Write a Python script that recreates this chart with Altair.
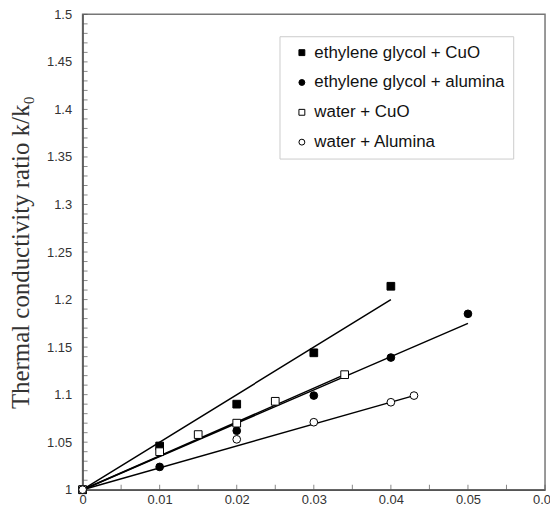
import altair as alt
import pandas as pd

series = ["ethylene glycol + CuO", "ethylene glycol + alumina", "water + CuO", "water + Alumina"]

eg_cuo_x = [0.0, 0.01, 0.02, 0.03, 0.04]
eg_cuo_y = [1.0, 1.046, 1.090, 1.144, 1.214]

eg_al_x = [0.0, 0.01, 0.02, 0.03, 0.04, 0.05]
eg_al_y = [1.0, 1.024, 1.062, 1.099, 1.139, 1.185]

w_cuo_x = [0.0, 0.01, 0.015, 0.02, 0.025, 0.034]
w_cuo_y = [1.0, 1.040, 1.058, 1.070, 1.093, 1.121]

w_al_x = [0.0, 0.02, 0.03, 0.04, 0.043]
w_al_y = [1.0, 1.053, 1.071, 1.092, 1.099]

fit_x_end = [0.04, 0.05, 0.034, 0.043]
fit_y_end = [1.200, 1.175, 1.121, 1.099]

x_tick_vals = [0, 0.01, 0.02, 0.03, 0.04, 0.05, 0.06]
y_tick_vals = [1, 1.05, 1.1, 1.15, 1.2, 1.25, 1.3, 1.35, 1.4, 1.45, 1.5]
x_minor = [round(i * 0.005, 3) for i in range(13)]
y_minor = [round(1 + i * 0.01, 2) for i in range(51)]

W, H = 465, 478

rows = []
for s, xs, ys in zip(series, [eg_cuo_x, eg_al_x, w_cuo_x, w_al_x], [eg_cuo_y, eg_al_y, w_cuo_y, w_al_y]):
    for a, b in zip(xs, ys):
        rows.append({"series": s, "x": a, "y": b})
pts = pd.DataFrame(rows)

fit_rows = []
for s, xe, ye in zip(series, fit_x_end, fit_y_end):
    fit_rows.append({"series": s, "x": 0.0, "y": 1.0})
    fit_rows.append({"series": s, "x": xe, "y": ye})
fits = pd.DataFrame(fit_rows)

xscale = alt.Scale(domain=[0, 0.06], nice=False, zero=False)
yscale = alt.Scale(domain=[1, 1.5], nice=False, zero=False)

xaxis = alt.Axis(values=x_tick_vals, format="~g", title=None, grid=False, ticks=False, tickSize=0,
                 labelFont="Liberation Sans", labelFontSize=13, labelColor="#333", labelPadding=4,
                 labelFlush=False, domainColor="#555", domainWidth=1.5)
yaxis = alt.Axis(values=y_tick_vals, format="~g", title="Thermal conductivity ratio k/k₀", grid=False,
                 ticks=False, tickSize=0, labelFlush=False,
                 labelFont="Liberation Sans", labelFontSize=13, labelColor="#333", labelPadding=11,
                 titleFont="Liberation Serif", titleFontSize=25, titleFontWeight="normal",
                 titleColor="#333", titlePadding=13, domainColor="#555", domainWidth=1.5)

lines = alt.Chart(fits).mark_line(color="black", strokeWidth=1.5).encode(
    x=alt.X("x:Q", scale=xscale, axis=xaxis),
    y=alt.Y("y:Q", scale=yscale, axis=yaxis),
    detail="series:N",
)

leg = alt.Legend(title=None, orient="none", legendX=198, legendY=22)
points = alt.Chart(pts).mark_point(filled=False, strokeWidth=1, size=60,
                                   opacity=1, fillOpacity=1).encode(
    x=alt.X("x:Q", scale=xscale),
    y=alt.Y("y:Q", scale=yscale),
    shape=alt.Shape("series:N", scale=alt.Scale(domain=series, range=["square", "circle", "square", "circle"]),
                    legend=leg),
    fill=alt.Fill("series:N", scale=alt.Scale(domain=series, range=["black", "black", "white", "white"]),
                  legend=leg),
    stroke=alt.Stroke("series:N", scale=alt.Scale(domain=series, range=["black", "black", "black", "black"]),
                      legend=leg),
)

yt = alt.Chart(pd.DataFrame({"v": y_minor})).mark_tick(color="#555", thickness=1, size=5).encode(
    y=alt.Y("v:Q", scale=yscale), x=alt.value(2.5))
xt = alt.Chart(pd.DataFrame({"v": x_minor})).mark_tick(color="#555", thickness=1, size=5).encode(
    x=alt.X("v:Q", scale=xscale), y=alt.value(H - 2.5))

chart = alt.layer(yt, xt, lines, points).properties(
    width=W, height=H,
    autosize=alt.AutoSizeParams(type="none"),
    padding={"left": 75, "top": 5, "right": 5, "bottom": 17},
    background="white",
).configure_view(
    stroke="#777", strokeWidth=1.5
).configure_legend(
    strokeColor="#ccc", fillColor="white", padding=8, labelFont="Liberation Sans", labelFontSize=17,
    labelColor="#111", symbolSize=35, rowPadding=12, symbolOffset=6, labelOffset=4,
    labelLimit=400, symbolStrokeWidth=1
)

chart.save("out.html", embed_options={"renderer": "svg", "actions": False})
